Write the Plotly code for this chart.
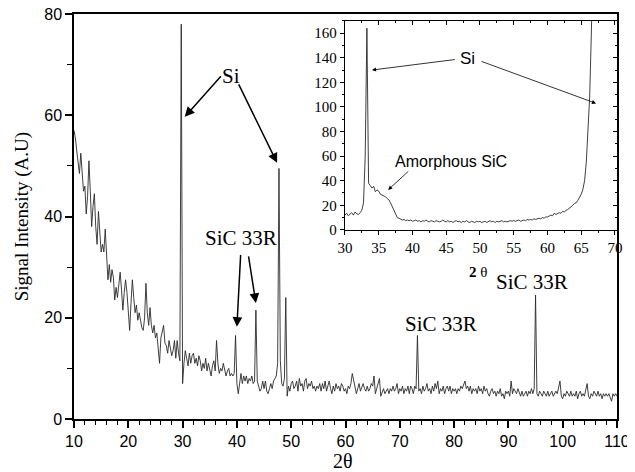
import numpy as np
import plotly.graph_objects as go

# main XRD scan, 2-theta sampled every 0.25 deg from 10 to 110
theta_start, theta_step = 10.0, 0.25
counts = [
    57, 55.5, 53, 50, 48.5, 52.5, 48, 45, 46, 40.5, 44, 51, 45, 38, 42, 44.5, 38, 34.5, 41, 36,
    33, 34.5, 33, 37.5, 31, 27.5, 30.5, 27, 29.5, 28, 23.5, 26, 24, 27, 29, 25.5, 21.5, 25, 27.5, 25,
    22, 17.5, 23, 27.5, 24, 21, 22.5, 19.5, 21, 19, 18, 17.5, 20, 26.8, 21, 18.5, 22, 18.5, 17, 18.5,
    16, 17, 13.5, 11, 16, 17.5, 18.5, 15, 14.5, 13, 15.5, 14, 12.5, 13.5, 15.5, 12, 15.5, 13, 11.5, 78,
    7, 11, 13.5, 12, 10.5, 13, 11, 12.5, 13, 11, 12, 10.5, 12.5, 11.5, 9.5, 11, 10, 12, 9.5, 11,
    10, 8.5, 10.5, 11.5, 9.5, 15.5, 11, 9, 10, 9.5, 11, 9.5, 8.5, 9.5, 10, 8.5, 9, 8.5, 9, 16.5,
    7, 5, 7.5, 9, 7, 8.5, 7.5, 8.5, 7, 8, 7.5, 8.5, 7, 7.5, 21.5, 7.5, 6.5, 5.5, 6, 7.5,
    6, 7.5, 5.5, 5, 6, 7, 6, 7.5, 8, 8.5, 11, 49.5, 11.5, 7, 6.5, 8, 24, 4.5, 6.5, 5.5,
    7, 7.5, 6, 6.5, 7.5, 5.5, 8, 6.5, 7, 5.5, 7.5, 8, 6, 7, 6.5, 7.5, 6, 6.5, 5.5, 6.5,
    6, 7, 5.5, 7, 6, 7.5, 5.5, 6.5, 7.5, 6, 5, 6.5, 5.5, 7, 6, 6.5, 5.5, 7, 6.5, 5.5,
    6, 5, 6.5, 6, 7, 9, 7.5, 6, 5, 6, 7, 5.5, 6.5, 7, 6, 5.5, 6.5, 5.5, 6, 7,
    6.5, 8.5, 5, 6, 6.5, 8, 4.5, 5.5, 6, 5, 5.5, 6, 5, 6, 5.5, 6.5, 5.5, 6, 7, 5,
    6, 5.5, 6.5, 5, 6, 5.5, 6.5, 5, 6.5, 6, 5, 6.5, 6, 16.5, 5.5, 6, 5, 6.5, 5.5, 6,
    7, 5.5, 6, 5, 6.5, 5.5, 7, 6, 7.5, 5, 6, 5.5, 6.5, 5, 6, 6.5, 5.5, 6.5, 5, 6,
    5.5, 6, 5, 6, 5.5, 6.5, 6, 7, 7.5, 6, 6.5, 5.5, 6.5, 5, 6, 5.5, 6, 5, 6.5, 5.5,
    6, 5, 6.5, 5.5, 6, 5, 4.5, 5.5, 6, 5, 5.5, 4.5, 5.5, 5, 6, 4.5, 5, 4, 5.5, 5,
    5.5, 4.5, 7.5, 5, 6, 5.5, 5, 6, 5, 4.5, 5.5, 4.5, 5, 5.5, 4.5, 5.5, 5, 6, 5, 6,
    24.5, 5, 4.5, 5.5, 5, 4.5, 5.5, 5, 4.5, 5.5, 4.5, 5, 5.5, 4.5, 5, 5.5, 5, 6, 7.5, 4.5,
    4, 5, 4.5, 5.5, 5, 4.5, 5.5, 4.5, 5, 4.5, 5.5, 4, 5, 5.5, 4.5, 5, 4.5, 5.5, 7, 4.5,
    4, 5, 4.5, 5.5, 5, 4.5, 5.5, 4.5, 5, 4, 5, 4.5, 5, 4.5, 5, 4, 3.5, 5, 4.5, 5,
    4.5,
]
two_theta = theta_start + theta_step * np.arange(len(counts))

# inset scan, 30 to 66.75 deg every 0.25 deg (runs off the top near 66.5)
inset_start = 30.0
inset_counts = [
    12, 13.5, 11.5, 13, 14, 12, 14.5, 13, 12.5, 14, 16, 22, 60, 164, 38, 36, 34, 35.5, 31, 32.5,
    31.5, 29, 28.5, 27.5, 27, 25.5, 24.5, 22, 19, 15, 12, 10, 9.5, 8.5, 8, 8.5, 7.5, 8, 7.5, 8,
    7, 7.5, 8, 7, 7.5, 6.5, 7.5, 7, 8, 7, 6.5, 7.5, 7, 6.5, 7.5, 7, 6.5, 7, 8, 7,
    6.5, 7.5, 6.5, 7, 6, 7, 7.5, 6.5, 7, 6, 7, 6.5, 7.5, 6.5, 6, 7, 6.5, 6, 7, 6.5,
    7, 6, 6.5, 7, 6, 6.5, 7.5, 6.5, 7, 6, 7, 6.5, 7, 7.5, 6.5, 7, 6.5, 7, 7.5, 7,
    7.5, 7, 7.5, 8, 7, 7.5, 8, 7.5, 8.5, 8, 8.5, 8, 9, 8.5, 9, 9.5, 9, 10, 9.5, 10.5,
    10.5, 11, 12, 11.5, 13.5, 12.5, 13, 14, 13.5, 15, 14.5, 16, 16.5, 17.5, 19, 20, 21.5, 22, 24, 26,
    29, 33, 40, 55, 80, 108, 160, 230,
]
inset_theta = inset_start + theta_step * np.arange(len(inset_counts))

serif = "Liberation Serif, Times New Roman, serif"
sans = "Liberation Sans, Arial, sans-serif"

fig = go.Figure()
fig.add_trace(go.Scatter(x=two_theta, y=counts, mode='lines',
                         line=dict(color='#2a2a2a', width=0.9), showlegend=False))
fig.add_trace(go.Scatter(x=inset_theta, y=inset_counts, mode='lines', xaxis='x2', yaxis='y2',
                         line=dict(color='#2a2a2a', width=0.9), showlegend=False))
# invisible copy so the top/right tick axes of the inset get drawn
fig.add_trace(go.Scatter(x=inset_theta, y=inset_counts, mode='lines', xaxis='x3', yaxis='y3',
                         line=dict(color='rgba(0,0,0,0)', width=0), hoverinfo='skip', showlegend=False))

# page body has an 8px margin, so the figure is a little smaller than the window
fig.update_layout(
    width=627, height=464,
    margin=dict(l=66, r=18, t=6, b=53),
    paper_bgcolor='white', plot_bgcolor='white',
    xaxis=dict(range=[10, 110], dtick=10, ticks='outside', ticklen=7, tickwidth=1.5, tickcolor='black',
               showline=True, linewidth=1.5, linecolor='black', mirror=True, showgrid=False, zeroline=False,
               automargin=False, ticklabeloverflow='allow',
               tickfont=dict(family=sans, size=16, color='black'),
               minor=dict(dtick=2, ticks='outside', ticklen=4, tickwidth=1.2, tickcolor='black')),
    yaxis=dict(range=[0, 80], dtick=20, ticks='outside', ticklen=7, tickwidth=1.5, tickcolor='black',
               showline=True, linewidth=1.5, linecolor='black', mirror=True, showgrid=False, zeroline=False,
               automargin=False, ticklabeloverflow='allow',
               tickfont=dict(family=sans, size=16, color='black'),
               minor=dict(dtick=10, ticks='outside', ticklen=5, tickwidth=1.2, tickcolor='black')),
    xaxis2=dict(domain=[0.499, 1.0], anchor='y2', range=[30, 70.3], dtick=5, ticks='outside', ticklen=4,
                tickcolor='black', showline=True, linewidth=1.2, linecolor='black', mirror=True,
                showgrid=False, zeroline=False, automargin=False, ticklabeloverflow='allow',
                tickfont=dict(family=serif, size=15, color='black'),
                minor=dict(dtick=2.5, ticks='outside', ticklen=2, tickcolor='black')),
    yaxis2=dict(domain=[0.467, 0.983], anchor='x2', range=[0, 170], dtick=20, ticks='outside', ticklen=4,
                tickcolor='black', showline=True, linewidth=1.2, linecolor='black', mirror=True,
                showgrid=False, zeroline=False, automargin=False,
                tickfont=dict(family=serif, size=15, color='black'),
                minor=dict(dtick=10, ticks='outside', ticklen=2, tickcolor='black')),
    xaxis3=dict(overlaying='x2', anchor='y2', side='top', range=[30, 70.3], dtick=5, ticks='inside',
                ticklen=4, tickcolor='black', tickwidth=1, showticklabels=False, showgrid=False,
                zeroline=False, automargin=False,
                minor=dict(dtick=2.5, ticks='inside', ticklen=2, tickcolor='black')),
    yaxis3=dict(overlaying='y2', anchor='x2', side='right', range=[0, 170], dtick=20, ticks='inside',
                ticklen=4, tickcolor='black', tickwidth=1, showticklabels=False, showgrid=False,
                zeroline=False, automargin=False,
                minor=dict(dtick=10, ticks='inside', ticklen=2, tickcolor='black')),
)

main_font = dict(family=serif, size=21, color='black')
inset_font = dict(family=sans, size=16, color='black')
notes = [
    dict(x=38.9, y=67.8, text='Si', showarrow=False, font=main_font),
    dict(x=40.8, y=35.8, text='SiC 33R', showarrow=False, font=main_font),
    dict(x=77.6, y=18.8, text='SiC 33R', showarrow=False, font=main_font),
    dict(x=94.3, y=27.1, text='SiC 33R', showarrow=False, font=main_font),
    dict(x=48.1, y=139.7, xref='x2', yref='y2', text='Si', showarrow=False,
         font=dict(family=sans, size=17, color='black')),
    dict(x=45.7, y=56, xref='x2', yref='y2', text='Amorphous SiC', showarrow=False, font=inset_font),
    # axis titles placed in paper space
    dict(x=0.744, y=0.363, xref='paper', yref='paper', text='<b>2</b> θ', showarrow=False,
         xanchor='center', yanchor='middle', font=dict(family=serif, size=15, color='black')),
    dict(x=0.495, y=-0.103, xref='paper', yref='paper', text='2θ', showarrow=False,
         xanchor='center', yanchor='middle', font=dict(family=serif, size=20, color='black')),
    dict(x=-0.096, y=0.5, xref='paper', yref='paper', text='Signal Intensity (A.U)', textangle=-90,
         xanchor='center', yanchor='middle', showarrow=False,
         font=dict(family=serif, size=19, color='black')),
]
# arrows: (tail x, tail y, tip x, tip y, axes, width, head size)
arrows = [
    (37.3, 68, 30.4, 59.7, 'x', 'y', 1.5, 1.0),
    (40.2, 66.4, 47.4, 50.6, 'x', 'y', 1.5, 1.0),
    (40.7, 32.7, 40.0, 18.2, 'x', 'y', 1.5, 1.0),
    (42.1, 32.4, 43.5, 22.9, 'x', 'y', 1.5, 1.0),
    (46.5, 138.7, 34.0, 130, 'x2', 'y2', 0.8, 0.8),
    (50.0, 137.5, 67.2, 102.9, 'x2', 'y2', 0.8, 0.8),
    (39.6, 48.7, 36.4, 32.5, 'x2', 'y2', 0.8, 0.8),
]
for ax, ay, x, y, xr, yr, w, s in arrows:
    notes.append(dict(x=x, y=y, ax=ax, ay=ay, xref=xr, yref=yr, axref=xr, ayref=yr, text='',
                      showarrow=True, arrowhead=2, arrowsize=s * 1.3, arrowwidth=w, arrowcolor='black'))
fig.update_layout(annotations=notes)

fig.write_html("out.html")
